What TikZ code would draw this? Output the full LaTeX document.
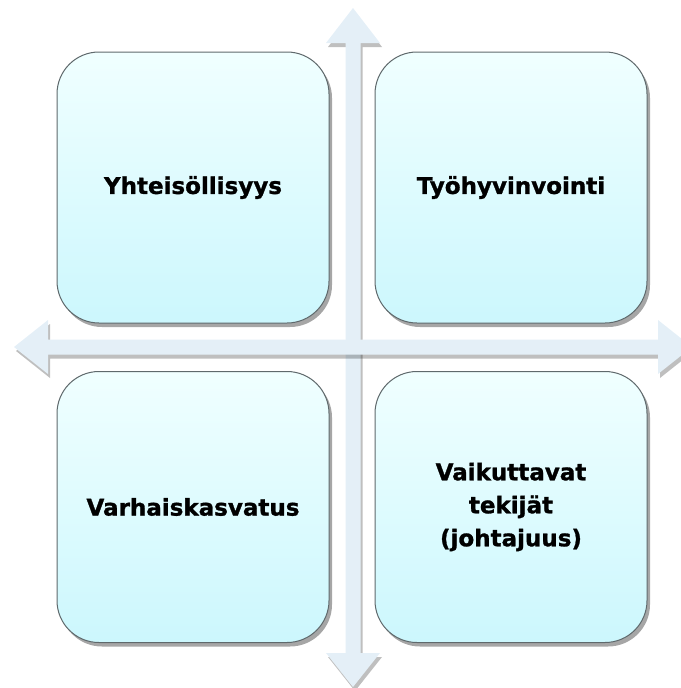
\documentclass[tikz,border=0pt]{standalone}
\usepackage{fontspec}
\setmainfont{DejaVu Sans}[BoldFeatures={FakeBold=1.2}]
\usetikzlibrary{shadows}
\definecolor{boxtop}{RGB}{240,255,255}
\definecolor{boxbot}{RGB}{204,247,253}
\definecolor{boxline}{RGB}{95,105,108}
\definecolor{axisfill}{RGB}{228,239,247}

\begin{document}
\begin{tikzpicture}[x=1pt,y=-1pt,
  quad/.style={rectangle,rounded corners=42pt,draw=boxline,line width=1pt,
               top color=boxtop,bottom color=boxbot,minimum width=272pt,
               minimum height=271pt,font=\fontsize{23}{33}\selectfont\bfseries,
               align=center,drop shadow={shadow xshift=3pt,shadow yshift=-4pt,
               opacity=0.35,fill=black}},
  axis/.style={fill=axisfill,draw=none,drop shadow={shadow xshift=2pt,
               shadow yshift=-4pt,opacity=0.25,fill=black}}
]
\useasboundingbox (0,0) rectangle (680,688);
% the cross
\path[axis] (353,8) -- (380,43) -- (360.5,43) -- (360.5,653) -- (380,653)
  -- (353,687) -- (326,653) -- (345.5,653) -- (345.5,43) -- (326,43) -- cycle;
\path[axis] (14,347) -- (48,320) -- (48,339.5) -- (658,339.5) -- (658,320)
  -- (692,347) -- (658,374) -- (658,354.5) -- (48,354.5) -- (48,374) -- cycle;
% quadrants
\node[quad] (yht) at (193,187.5) {Yhteisöllisyys};
\node[quad] (tyo) at (511,187.5) {Työhyvinvointi};
\node[quad] (var) at (193,507) {Varhaiskasvatus};
\node[quad] (vai) at (511,507) {Vaikuttavat\\tekijät\\(johtajuus)};
\end{tikzpicture}
\end{document}
